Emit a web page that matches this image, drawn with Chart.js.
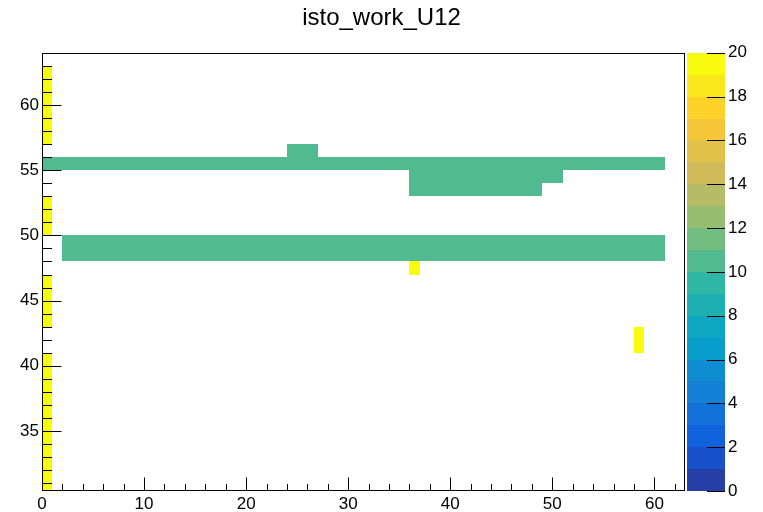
<!DOCTYPE html>
<html>
<head>
<meta charset="utf-8">
<title>isto_work_U12</title>
<script src="https://cdn.jsdelivr.net/npm/chart.js@4.4.1/dist/chart.umd.min.js"></script>
<style>
  html, body { margin: 0; padding: 0; background: #fff; }
</style>
</head>
<body>
<canvas id="histo" width="763" height="512"></canvas>
<script>
// blocks of filled bins: x from binX0 to binX1, y from binY0 to binY1, content binZ
const binX0 = [0, 0, 0, 0, 24, 0, 36, 36, 2, 36, 58];
const binX1 = [1, 1, 1, 1, 27, 61, 51, 49, 61, 37, 59];
const binY0 = [57, 50, 43, 30, 56, 55, 54, 53, 48, 47, 41];
const binY1 = [63, 53, 47, 41, 57, 56, 55, 54, 50, 48, 43];
const binZ = [20, 20, 20, 20, 10, 10, 10, 10, 10, 20, 20];

const xTicks = [0, 10, 20, 30, 40, 50, 60];
const yTicks = [35, 40, 45, 50, 55, 60];
const zTicks = [0, 2, 4, 6, 8, 10, 12, 14, 16, 18, 20];

const zMin = 0;
const zMax = 20;
const nLevels = 20;

// kBird palette
const birdStops = [0.0000, 0.1250, 0.2500, 0.3750, 0.5000, 0.6250, 0.7500, 0.8750, 1.0000];
const birdRed = [0.2082, 0.0592, 0.0780, 0.0232, 0.1802, 0.5301, 0.8186, 0.9956, 0.9764];
const birdGreen = [0.1664, 0.3599, 0.5041, 0.6419, 0.7178, 0.7492, 0.7328, 0.7862, 0.9832];
const birdBlue = [0.5293, 0.8684, 0.8385, 0.7914, 0.6425, 0.4662, 0.3499, 0.1968, 0.0539];

function birdColor(t) {
  let k = 0;
  while (k < birdStops.length - 2 && t > birdStops[k + 1]) k++;
  const f = (t - birdStops[k]) / (birdStops[k + 1] - birdStops[k]);
  const r = birdRed[k] + f * (birdRed[k + 1] - birdRed[k]);
  const g = birdGreen[k] + f * (birdGreen[k + 1] - birdGreen[k]);
  const b = birdBlue[k] + f * (birdBlue[k + 1] - birdBlue[k]);
  return `rgb(${Math.round(r * 255)}, ${Math.round(g * 255)}, ${Math.round(b * 255)})`;
}

function levelColor(i) {
  const idx = Math.floor((i + 0.99) * 255 / nLevels);
  return birdColor(Math.min(idx, 254) / 254);
}

function zColor(z) {
  let i = Math.floor((z - zMin) / (zMax - zMin) * nLevels);
  if (i >= nLevels) i = nLevels - 1;
  return levelColor(i);
}

const fonte = "'Liberation Sans', Arial, sans-serif";

const histoPlugin = {
  id: 'histoPlugin',
  afterDraw(chart) {
    const ctx = chart.ctx;
    const area = chart.chartArea;
    const x = chart.scales.x;
    const y = chart.scales.y;
    const z = chart.scales.z;

    // bins (whole pixels so neighbouring blocks join without seams)
    ctx.save();
    ctx.beginPath();
    ctx.rect(area.left, area.top, area.right - area.left, area.bottom - area.top);
    ctx.clip();
    for (let i = 0; i < binZ.length; i++) {
      const px0 = Math.round(x.getPixelForValue(binX0[i]));
      const px1 = Math.round(x.getPixelForValue(binX1[i]));
      const py0 = Math.round(y.getPixelForValue(binY0[i]));
      const py1 = Math.round(y.getPixelForValue(binY1[i]));
      ctx.fillStyle = zColor(binZ[i]);
      ctx.fillRect(px0, py1, px1 - px0, py0 - py1);
    }
    ctx.restore();

    // frame and ticks
    ctx.save();
    ctx.strokeStyle = '#000';
    ctx.lineWidth = 1;
    const l = Math.round(area.left) + 0.5;
    const r = Math.round(area.right) - 0.5;
    const t = Math.round(area.top) + 0.5;
    const b = Math.round(area.bottom) - 0.5;
    ctx.strokeRect(l, t, r - l, b - t);

    ctx.beginPath();
    for (let v = 0; v <= 63; v += 2) {
      const px = Math.round(x.getPixelForValue(v)) + 0.5;
      const len = xTicks.includes(v) ? 13 : 6.5;
      ctx.moveTo(px, b);
      ctx.lineTo(px, b - len);
    }
    for (let v = 31; v <= 63; v++) {
      const py = Math.round(y.getPixelForValue(v)) + 0.5;
      const len = yTicks.includes(v) ? 19 : 9.5;
      ctx.moveTo(l, py);
      ctx.lineTo(l + len, py);
    }
    ctx.stroke();

    // colour palette
    const cx0 = Math.round(area.right) + 2;
    const cx1 = Math.round(area.right) + 40;
    for (let i = 0; i < nLevels; i++) {
      const v0 = zMin + i * (zMax - zMin) / nLevels;
      const v1 = zMin + (i + 1) * (zMax - zMin) / nLevels;
      const py0 = Math.round(z.getPixelForValue(v0));
      const py1 = Math.round(z.getPixelForValue(v1));
      ctx.fillStyle = levelColor(i);
      ctx.fillRect(cx0, py1, cx1 - cx0, py0 - py1);
    }
    ctx.beginPath();
    zTicks.forEach(function (v) {
      const py = Math.round(z.getPixelForValue(v)) + 0.5;
      ctx.moveTo(cx1, py);
      ctx.lineTo(cx1 - 18, py);
    });
    ctx.stroke();
    ctx.restore();
  }
};

new Chart(document.getElementById('histo'), {
  type: 'scatter',
  data: { datasets: [] },
  options: {
    responsive: false,
    animation: false,
    devicePixelRatio: 1,
    layout: { padding: 0 },
    plugins: {
      legend: { display: false },
      tooltip: { enabled: false },
      title: {
        display: true,
        text: 'isto_work_U12',
        color: '#000',
        font: { family: fonte, size: 24, weight: 'normal' },
        padding: { top: 4, bottom: 20 }
      }
    },
    scales: {
      x: {
        type: 'linear',
        position: 'bottom',
        min: 0,
        max: 63,
        grid: { display: false, drawTicks: false },
        border: { display: false },
        ticks: {
          color: '#000',
          font: { family: fonte, size: 17 },
          padding: 3,
          autoSkip: false,
          maxRotation: 0
        },
        afterBuildTicks: function (s) { s.ticks = xTicks.map(v => ({ value: v })); },
        afterFit: function (s) { s.height = 21; }
      },
      y: {
        type: 'linear',
        position: 'left',
        min: 30.4,
        max: 64,
        grid: { display: false, drawTicks: false },
        border: { display: false },
        ticks: {
          color: '#000',
          font: { family: fonte, size: 17 },
          padding: 3,
          autoSkip: false
        },
        afterBuildTicks: function (s) { s.ticks = yTicks.map(v => ({ value: v })); },
        afterFit: function (s) { s.width = 42; }
      },
      z: {
        type: 'linear',
        position: 'right',
        min: zMin,
        max: zMax,
        // the tick length only pushes the labels past the palette, the grid itself is hidden
        grid: { display: false, drawTicks: true, tickLength: 40 },
        border: { display: false },
        ticks: {
          color: '#000',
          font: { family: fonte, size: 17 },
          padding: 3,
          autoSkip: false
        },
        afterBuildTicks: function (s) { s.ticks = zTicks.map(v => ({ value: v })); },
        afterFit: function (s) { s.width = 78; }
      }
    }
  },
  plugins: [histoPlugin]
});
</script>
</body>
</html>
